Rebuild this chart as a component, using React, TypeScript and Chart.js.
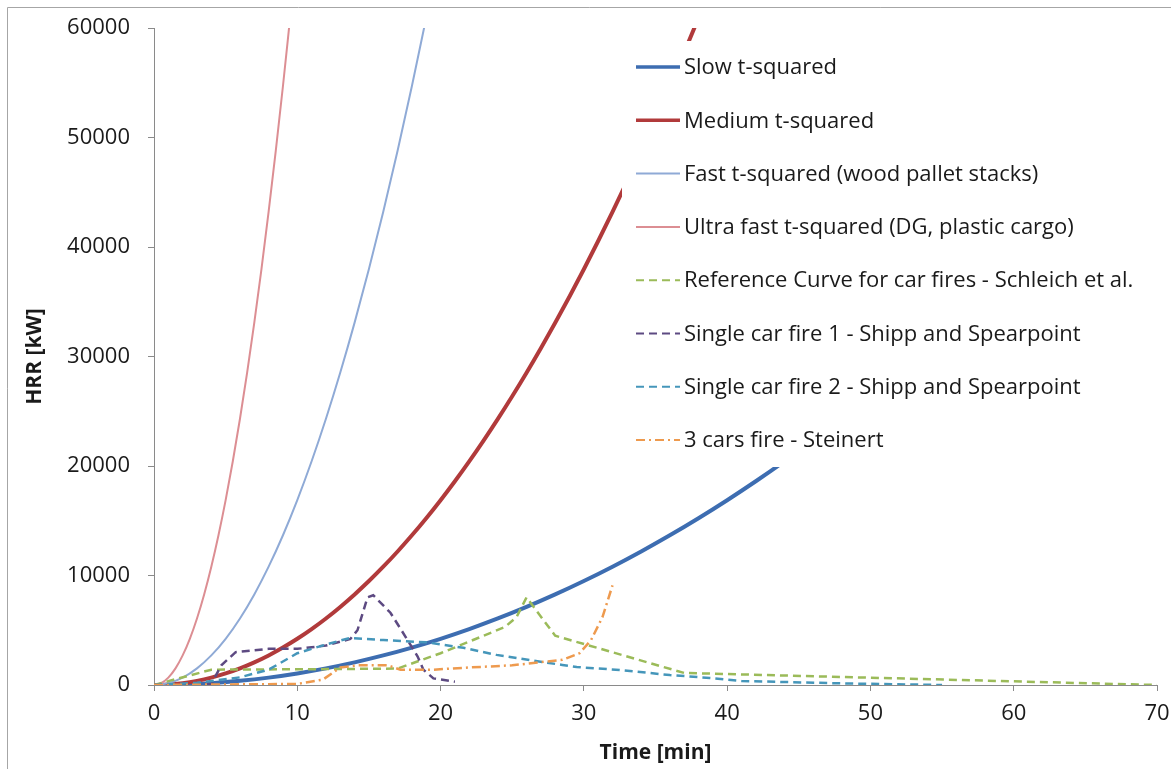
import { useEffect, useRef } from "react";
import { Chart, registerables } from "chart.js";

Chart.register(...registerables);

// ---------- data (time in min, HRR in kW) ----------
const xTickValues = [0, 10, 20, 30, 40, 50, 60, 70];
const yTickValues = [0, 10000, 20000, 30000, 40000, 50000, 60000];

const seriesLabels = [
  "Slow t-squared",
  "Medium t-squared",
  "Fast t-squared (wood pallet stacks)",
  "Ultra fast t-squared (DG, plastic cargo)",
  "Reference Curve for car fires - Schleich et al.",
  "Single car fire 1 - Shipp and Spearpoint",
  "Single car fire 2 - Shipp and Spearpoint",
  "3 cars fire - Steinert",
];

const slowTime = [0, 2, 4, 6, 8, 10, 12, 14, 16, 18, 20, 22, 24, 26, 28, 30, 32, 34, 36, 38, 40, 42, 44, 46, 48, 50, 52, 54, 56, 58, 60];
const slowHRR = [0, 42, 169, 380, 675, 1055, 1519, 2067, 2700, 3418, 4219, 5105, 6076, 7130, 8270, 9493, 10801, 12194, 13670, 15231, 16877, 18607, 20421, 22319, 24303, 26370, 28522, 30758, 33079, 35483, 37973];

const mediumTime = [0, 1, 2, 3, 4, 5, 6, 7, 8, 9, 10, 11, 12, 13, 14, 15, 16, 17, 18, 19, 20, 21, 22, 23, 24, 25, 26, 27, 28, 29, 30, 31, 32, 33, 34, 35, 36, 37, 38];
const mediumHRR = [0, 42, 169, 380, 675, 1055, 1519, 2067, 2700, 3418, 4219, 5105, 6076, 7130, 8270, 9493, 10801, 12194, 13670, 15231, 16877, 18607, 20421, 22319, 24303, 26370, 28522, 30758, 33079, 35483, 37973, 40547, 43205, 45947, 48774, 51685, 54680, 57760, 60925];

const fastTime = [0, 1, 2, 3, 4, 5, 6, 7, 8, 9, 10, 11, 12, 13, 14, 15, 16, 17, 18, 19];
const fastHRR = [0, 169, 675, 1520, 2701, 4221, 6078, 8273, 10806, 13676, 16884, 20430, 24313, 28534, 33093, 37989, 43223, 48795, 54704, 60951];

const ultraTime = [0, 0.5, 1, 1.5, 2, 2.5, 3, 3.5, 4, 4.5, 5, 5.5, 6, 6.5, 7, 7.5, 8, 8.5, 9, 9.5];
const ultraHRR = [0, 169, 675, 1520, 2701, 4221, 6078, 8273, 10806, 13676, 16884, 20430, 24313, 28534, 33093, 37989, 43223, 48795, 54704, 60951];

const schleichTime = [0, 4, 12, 17, 20, 24.5, 25.3, 26, 28, 37, 70];
const schleichHRR = [0, 1400, 1450, 1500, 2900, 5300, 6200, 8000, 4500, 1100, 0];

const car1Time = [0, 4, 4.7, 5.7, 8, 10, 12, 13.7, 14.2, 14.9, 15.3, 16.5, 17.7, 18.4, 18.8, 19.5, 21];
const car1HRR = [0, 100, 1800, 3000, 3300, 3300, 3600, 4200, 5000, 8000, 8200, 6600, 4100, 2600, 1400, 600, 300];

const car2Time = [0, 3, 6, 8, 10, 12, 13.7, 16, 19, 21.6, 23.9, 26.2, 28.5, 29.5, 32.5, 36, 38.8, 41, 48, 55];
const car2HRR = [0, 200, 700, 1400, 2900, 3700, 4300, 4100, 3900, 3400, 2750, 2280, 1830, 1640, 1370, 910, 640, 370, 150, 0];

const steinertTime = [0, 10, 11.8, 13, 14.2, 16.3, 17.2, 19.5, 22, 25, 28.5, 29.7, 30.5, 31.3, 32];
const steinertHRR = [0, 100, 500, 1600, 1800, 1800, 1400, 1400, 1600, 1800, 2300, 2900, 4100, 6200, 9100];

// ---------- styling ----------
const FONT = "'Open Sans', 'Noto Sans', sans-serif";
const seriesColors = ["#3D6DB1", "#B13A3B", "#8FAAD6", "#DC8E93", "#9BBB59", "#5D4A82", "#4596BA", "#EE9A4E"];
const seriesWidths = [4, 4, 2, 2, 2.5, 2.5, 2.5, 2.5];
const seriesDashes: number[][] = [[], [], [], [], [8, 5], [8, 5], [8, 5], [9, 4, 2, 4]];
const seriesSmooth = [true, true, true, true, false, false, false, false];

const pts = (t: number[], v: number[]) => t.map((x, i) => ({ x, y: v[i] }));

const seriesPoints = [
  pts(slowTime, slowHRR),
  pts(mediumTime, mediumHRR),
  pts(fastTime, fastHRR),
  pts(ultraTime, ultraHRR),
  pts(schleichTime, schleichHRR),
  pts(car1Time, car1HRR),
  pts(car2Time, car2HRR),
  pts(steinertTime, steinertHRR),
];

const whiteBg = {
  id: "whiteBg",
  beforeDraw(chart: any) {
    const { ctx, width, height } = chart;
    ctx.save();
    ctx.fillStyle = "#ffffff";
    ctx.fillRect(0, 0, width, height);
    ctx.strokeStyle = "#a6a6a6";
    ctx.lineWidth = 1;
    ctx.beginPath();
    ctx.moveTo(7.5, height);
    ctx.lineTo(7.5, 7.5);
    ctx.lineTo(width, 7.5);
    ctx.stroke();
    ctx.restore();
  },
};

const boxLegend = {
  id: "boxLegend",
  afterDatasetsDraw(chart: any) {
    const { ctx } = chart;
    const left = 622;
    const top = 41;
    const rowGap = 53.3;
    const firstRow = 67;
    ctx.save();
    ctx.fillStyle = "#ffffff";
    ctx.fillRect(left, top, 535, 426);
    chart.data.datasets.forEach((ds: any, i: number) => {
      const y = firstRow + i * rowGap;
      ctx.save();
      ctx.strokeStyle = ds.borderColor;
      ctx.lineWidth = ds.borderWidth >= 4 ? 3.5 : 2;
      ctx.setLineDash(ds.borderDash || []);
      ctx.beginPath();
      ctx.moveTo(636, y);
      ctx.lineTo(680, y);
      ctx.stroke();
      ctx.restore();
      ctx.fillStyle = "#1a1a1a";
      ctx.font = `22px ${FONT}`;
      ctx.textBaseline = "middle";
      ctx.textAlign = "left";
      ctx.fillText(ds.label, 684, y + 1);
    });
    ctx.restore();
  },
};

export default function App() {
  const canvasRef = useRef<HTMLCanvasElement | null>(null);

  useEffect(() => {
    if (!canvasRef.current) return;
    const datasets = seriesLabels.map((label, i) => ({
      label,
      data: seriesPoints[i],
      borderColor: seriesColors[i],
      backgroundColor: seriesColors[i],
      borderWidth: seriesWidths[i],
      borderDash: seriesDashes[i],
      pointRadius: 0,
      pointHoverRadius: 0,
      fill: false,
      cubicInterpolationMode: seriesSmooth[i] ? ("monotone" as const) : ("default" as const),
      tension: 0,
      order: seriesLabels.length - i,
    }));

    const axisColor = "#8a8a8a";
    const chart = new Chart(canvasRef.current, {
      type: "line",
      data: { datasets },
      plugins: [whiteBg, boxLegend],
      options: {
        responsive: false,
        animation: false,
        events: [],
        layout: { padding: { left: 0, top: 28, right: 14, bottom: 0 } },
        plugins: {
          legend: { display: false },
          tooltip: { enabled: false },
        },
        scales: {
          x: {
            type: "linear",
            min: 0,
            max: 70,
            afterBuildTicks: (s: any) => {
              s.ticks = xTickValues.map((v) => ({ value: v }));
            },
            afterFit: (s: any) => {
              s.height = 84;
              s.paddingLeft = 0;
              s.paddingRight = 0;
            },
            grid: { drawOnChartArea: false, drawTicks: true, tickLength: 6, color: axisColor },
            border: { color: axisColor, width: 1 },
            ticks: {
              color: "#1a1a1a",
              font: { family: FONT, size: 22 },
              padding: 10,
              maxRotation: 0,
              callback: (v: any) => String(v),
            },
            title: {
              display: true,
              text: "Time [min]",
              color: "#1a1a1a",
              font: { family: FONT, size: 21, weight: "bold" },
              padding: { top: 0, bottom: 3 },
            },
          },
          y: {
            type: "linear",
            min: 0,
            max: 60000,
            afterBuildTicks: (s: any) => {
              s.ticks = yTickValues.map((v) => ({ value: v }));
            },
            afterFit: (s: any) => {
              s.width = 154;
              s.paddingTop = 0;
              s.paddingBottom = 0;
            },
            grid: { drawOnChartArea: false, drawTicks: true, tickLength: 6, color: axisColor },
            border: { color: axisColor, width: 1 },
            ticks: {
              color: "#1a1a1a",
              font: { family: FONT, size: 22 },
              padding: 18,
              callback: (v: any) => String(v),
            },
            title: {
              display: true,
              text: "HRR [kW]",
              color: "#1a1a1a",
              font: { family: FONT, size: 21, weight: "bold" },
              padding: { top: 22, bottom: 0 },
            },
          },
        },
      },
    });
    return () => chart.destroy();
  }, []);

  return (
    <div style={{ position: "fixed", left: 0, top: 0, width: 1171, height: 769, background: "#fff" }}>
      <canvas ref={canvasRef} width={1171} height={769} style={{ display: "block", width: 1171, height: 769 }} />
    </div>
  );
}
